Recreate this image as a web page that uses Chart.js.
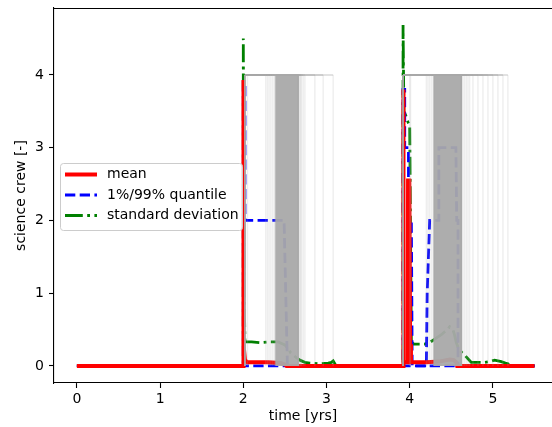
<!DOCTYPE html>
<html>
<head>
<meta charset="utf-8">
<script src="https://cdn.jsdelivr.net/npm/chart.js@4.4.0/dist/chart.umd.min.js"></script>
<style>
html, body { margin: 0; padding: 0; background: #fff; overflow: hidden; }
#wrap { width: 552px; height: 427px; }
</style>
</head>
<body>
<div id="wrap"><canvas id="chart" width="552" height="427"></canvas></div>
<script>

// tick labels
const xTicks = [0, 1, 2, 3, 4, 5]
const yTicks = [0, 1, 2, 3, 4]

// mean crew
const meanT = [0, 2.0, 2.0, 2.005, 2.02, 2.05, 2.3, 2.45, 2.5, 2.52, 3.92, 3.92, 3.93, 3.975, 3.98, 3.995, 4.005, 4.015, 4.2, 4.35, 4.48, 4.53, 4.56, 4.57, 5.5]
const meanV = [0, 0, 3.93, 0.3, 0.08, 0.05, 0.05, 0.04, 0.02, 0, 0, 3.8, 0.05, 0.05, 2.55, 2.55, 0.3, 0.05, 0.05, 0.06, 0.09, 0.08, 0.05, 0, 0]

// 99% quantile
const q99T = [0, 2.0, 2.0, 2.02, 2.02, 2.49, 2.51, 2.53, 3.92, 3.92, 3.94, 3.94, 3.985, 3.985, 4.02, 4.03, 4.2, 4.21, 4.24, 4.35, 4.35, 4.555, 4.565, 4.58, 4.58, 5.5]
const q99V = [0, 0, 3.9, 3.9, 2, 2, 1, 0, 0, 3.8, 3.8, 3, 3, 2, 2, 0, 0, 1.0, 2, 2, 3, 3, 2, 2, 0, 0]

// 1% quantile
const q01T = [0, 5.5]
const q01V = [0, 0]

// standard deviation
const stdT = [0, 2.0, 2.0, 2.01, 2.02, 2.1, 2.2, 2.3, 2.42, 2.46, 2.5, 2.54, 2.57, 2.62, 2.68, 2.74, 2.8, 2.9, 3.02, 3.06, 3.08, 3.1, 3.12, 3.92, 3.92, 3.93, 3.95, 3.98, 4.0, 4.02, 4.05, 4.1, 4.18, 4.25, 4.3, 4.34, 4.38, 4.42, 4.46, 4.48, 4.5, 4.52, 4.54, 4.56, 4.58, 4.6, 4.63, 4.66, 4.7, 4.74, 4.8, 4.9, 4.96, 5.02, 5.06, 5.1, 5.15, 5.18, 5.2, 5.5]
const stdV = [0, 0, 4.5, 1.0, 0.33, 0.33, 0.32, 0.33, 0.33, 0.31, 0.29, 0.24, 0.18, 0.13, 0.08, 0.05, 0.04, 0.03, 0.04, 0.05, 0.07, 0.03, 0, 0, 4.686, 3.5, 3.45, 3.35, 3.3, 0.33, 0.3, 0.3, 0.3, 0.33, 0.37, 0.40, 0.43, 0.47, 0.51, 0.54, 0.52, 0.5, 0.42, 0.32, 0.26, 0.22, 0.18, 0.15, 0.1, 0.05, 0.05, 0.05, 0.06, 0.08, 0.07, 0.06, 0.04, 0.03, 0, 0]

// single runs (crew of 4), start and end times
const runCrew = 4
const run1Start = 2.02
const run1Ends = [2.05, 2.27, 2.29, 2.31, 2.33, 2.35, 2.37, 2.38, 2.67, 2.68, 2.69, 2.7, 2.72, 2.74, 2.86, 2.96, 3.08]
const run2Start = 3.92
const run2Ends = [4.0, 4.01, 4.2, 4.22, 4.24, 4.26, 4.28, 4.63, 4.64, 4.66, 4.68, 4.7, 4.72, 4.76, 4.82, 4.88, 4.94, 5.0, 5.06, 5.12, 5.18]
// where the run end lines pile up
const dense1 = [2.39, 2.66]
const dense2 = [4.29, 4.62]

const zip = (t, v) => t.map((x, i) => ({x: x, y: v[i]}))

let datasets = []

function runSet(start, end){
  return {
    data: [{x: start, y: 0}, {x: start, y: runCrew}, {x: end, y: runCrew}, {x: end, y: 0}],
    borderColor: 'rgba(169,169,169,0.2)',
    borderWidth: 1.4,
    pointRadius: 0,
    segment: {
      borderColor: ctx => ctx.p0DataIndex === 1 ? 'rgba(169,169,169,0.45)' : 'rgba(169,169,169,0.2)'
    }
  }
}
run1Ends.forEach(e => datasets.push(runSet(run1Start, e)))
run2Ends.forEach(e => datasets.push(runSet(run2Start, e)))

function bandSet(b){
  return {
    data: [{x: b[0], y: 0}, {x: b[0], y: runCrew}, {x: b[1], y: runCrew}, {x: b[1], y: 0}],
    borderColor: 'rgba(169,169,169,0.9)',
    backgroundColor: 'rgba(169,169,169,0.95)',
    borderWidth: 1,
    pointRadius: 0,
    fill: 'origin'
  }
}
datasets.push(bandSet(dense1))
datasets.push(bandSet(dense2))

datasets.push({
  label: 'mean',
  data: zip(meanT, meanV),
  borderColor: '#ff0000',
  borderWidth: 4,
  pointRadius: 0
})
datasets.push({
  label: '1%/99% quantile',
  data: zip(q99T, q99V),
  borderColor: '#0000ff',
  borderWidth: 2.8,
  borderDash: [10.3, 4.4],
  pointRadius: 0
})
datasets.push({
  label: 'q01',
  data: zip(q01T, q01V),
  borderColor: '#0000ff',
  borderWidth: 2.8,
  borderDash: [10.3, 4.4],
  pointRadius: 0
})
datasets.push({
  label: 'standard deviation',
  data: zip(stdT, stdV),
  borderColor: '#008000',
  borderWidth: 2.8,
  borderDash: [17.8, 4.4, 2.8, 4.4],
  pointRadius: 0
})

const legendItems = [
  {text: 'mean', color: '#ff0000', width: 4, dash: []},
  {text: '1%/99% quantile', color: '#0000ff', width: 2.8, dash: [10.3, 4.4]},
  {text: 'standard deviation', color: '#008000', width: 2.8, dash: [17.8, 4.4, 2.8, 4.4]}
]

// top spine and the legend box (right spine is cut off in the picture)
const framePlugin = {
  id: 'frame',
  afterDatasetsDraw(chart){
    const c = chart.ctx
    const a = chart.chartArea
    c.save()
    c.strokeStyle = '#000'
    c.lineWidth = 1.1
    c.beginPath()
    c.moveTo(a.left, a.top + 0.5)
    c.lineTo(a.right, a.top + 0.5)
    c.stroke()

    const bx = 60.5, by = 163.5, bw = 182, bh = 67, r = 3
    c.beginPath()
    c.moveTo(bx + r, by)
    c.arcTo(bx + bw, by, bx + bw, by + bh, r)
    c.arcTo(bx + bw, by + bh, bx, by + bh, r)
    c.arcTo(bx, by + bh, bx, by, r)
    c.arcTo(bx, by, bx + bw, by, r)
    c.closePath()
    c.fillStyle = 'rgba(255,255,255,0.8)'
    c.fill()
    c.strokeStyle = '#cccccc'
    c.lineWidth = 1
    c.stroke()

    c.font = '14px "DejaVu Sans"'
    c.textBaseline = 'middle'
    c.fillStyle = '#000'
    legendItems.forEach((it, i) => {
      const y = 174.5 + i * 20.5
      c.beginPath()
      c.setLineDash(it.dash)
      c.strokeStyle = it.color
      c.lineWidth = it.width
      c.moveTo(65, y)
      c.lineTo(97, y)
      c.stroke()
      c.setLineDash([])
      c.fillText(it.text, 107, y)
    })
    c.restore()
  }
}

new Chart(document.getElementById('chart'), {
  type: 'line',
  data: { datasets: datasets },
  options: {
    responsive: false,
    animation: false,
    devicePixelRatio: 1,
    layout: { padding: { top: 8, right: 0, left: 0, bottom: 0 } },
    plugins: { legend: { display: false }, tooltip: { enabled: false } },
    elements: { line: { tension: 0, fill: false } },
    scales: {
      x: {
        type: 'linear',
        min: -0.275,
        max: 5.71,
        afterFit: s => { s.height = 44; s.paddingLeft = 0; s.paddingRight = 0 },
        afterBuildTicks: s => { s.ticks = xTicks.map(v => ({value: v})) },
        grid: { drawOnChartArea: false, drawTicks: true, tickLength: 5, color: '#000', tickWidth: 1.1 },
        border: { display: true, color: '#000', width: 1.1 },
        ticks: { color: '#000', font: { family: 'DejaVu Sans', size: 14 }, padding: 3, maxRotation: 0, autoSkip: false },
        title: { display: true, text: 'time [yrs]', color: '#000', font: { family: 'DejaVu Sans', size: 14 }, padding: { top: 0, bottom: 2 } }
      },
      y: {
        type: 'linear',
        min: -0.234,
        max: 4.92,
        afterFit: s => { s.width = 54; s.paddingTop = 0; s.paddingBottom = 0 },
        afterBuildTicks: s => { s.ticks = yTicks.map(v => ({value: v})) },
        grid: { drawOnChartArea: false, drawTicks: true, tickLength: 5, color: '#000', tickWidth: 1.1 },
        border: { display: true, color: '#000', width: 1.1 },
        ticks: { color: '#000', font: { family: 'DejaVu Sans', size: 14 }, padding: 5 },
        title: { display: true, text: 'science crew [-]', color: '#000', font: { family: 'DejaVu Sans', size: 14 }, padding: { top: 13, bottom: 0 } }
      }
    }
  },
  plugins: [framePlugin]
})
</script>
</body>
</html>
